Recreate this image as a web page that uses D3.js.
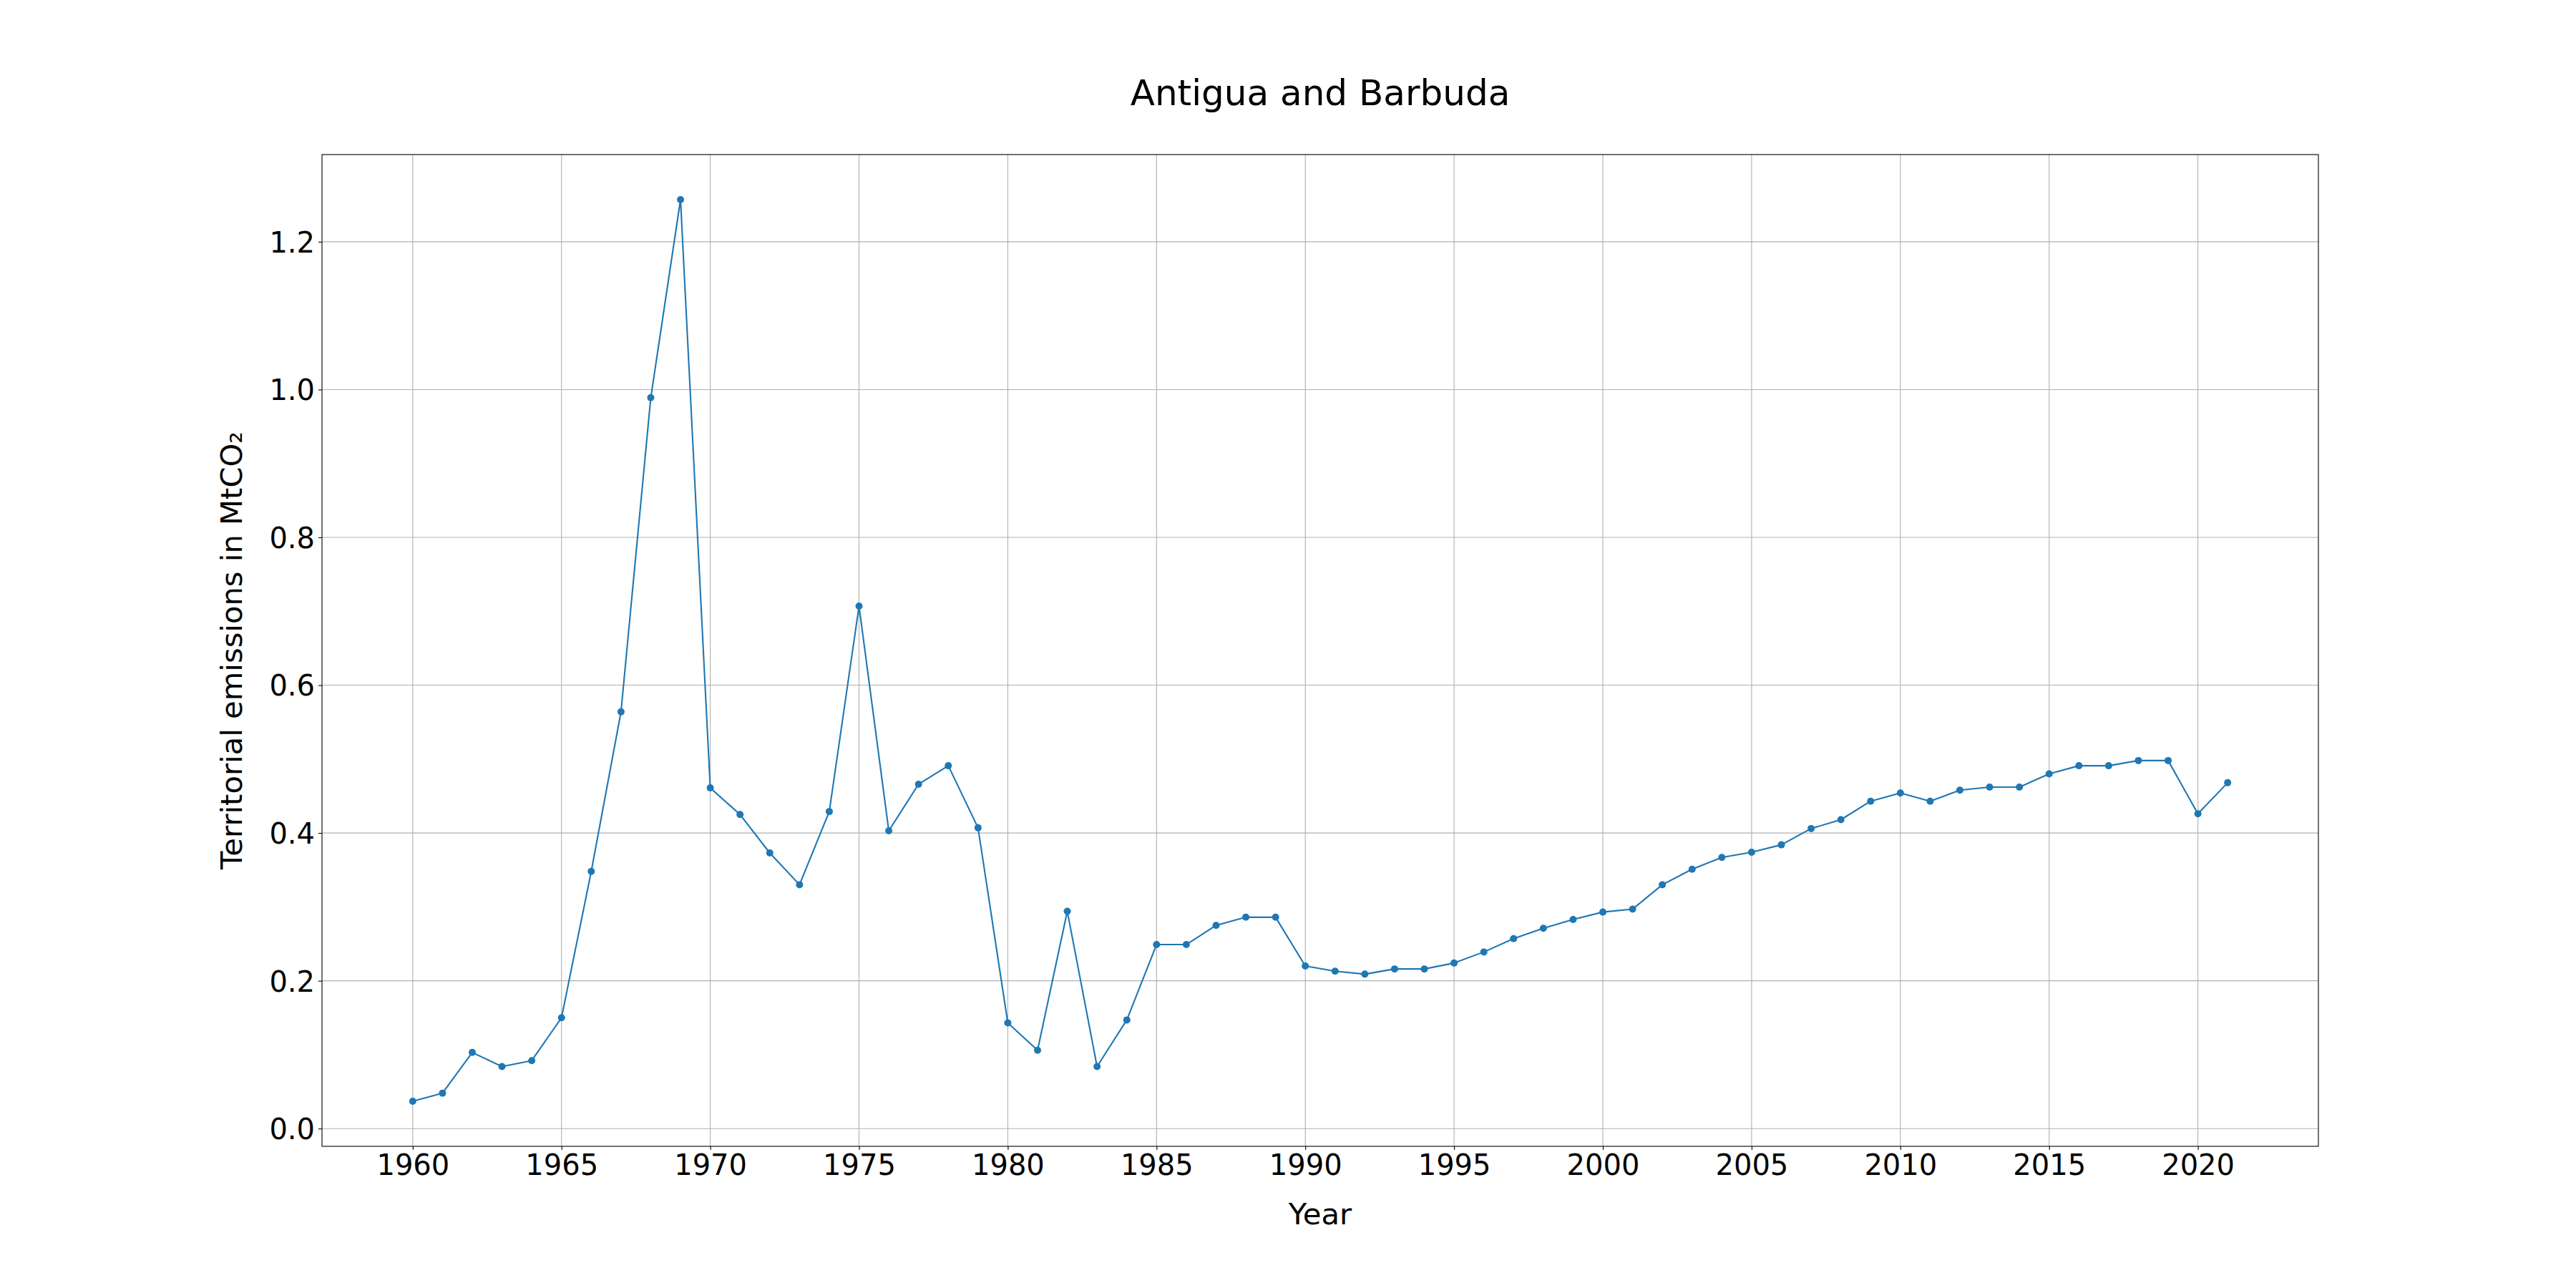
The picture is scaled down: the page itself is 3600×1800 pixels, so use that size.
<!DOCTYPE html>
<html>
<head>
<meta charset="utf-8">
<script src="https://cdn.jsdelivr.net/npm/d3@7"></script>
<style>
  html, body { margin: 0; padding: 0; background: #fff; }
  svg { display: block; }
  text { font-family: "DejaVu Sans", sans-serif; fill: #000; }
</style>
</head>
<body>
<svg id="chart" width="3600" height="1800"></svg>
<script>
const title = "Antigua and Barbuda";
const xLabel = "Year";
const yLabel = "Territorial emissions in MtCO₂";

const years = [
  1960, 1961, 1962, 1963, 1964, 1965, 1966, 1967, 1968, 1969,
  1970, 1971, 1972, 1973, 1974, 1975, 1976, 1977, 1978, 1979,
  1980, 1981, 1982, 1983, 1984, 1985, 1986, 1987, 1988, 1989,
  1990, 1991, 1992, 1993, 1994, 1995, 1996, 1997, 1998, 1999,
  2000, 2001, 2002, 2003, 2004, 2005, 2006, 2007, 2008, 2009,
  2010, 2011, 2012, 2013, 2014, 2015, 2016, 2017, 2018, 2019,
  2020, 2021
];
const emissions = [
  0.037, 0.048, 0.103, 0.084, 0.092, 0.150, 0.348, 0.564, 0.989, 1.257,
  0.461, 0.425, 0.373, 0.330, 0.429, 0.707, 0.403, 0.466, 0.491, 0.407,
  0.143, 0.106, 0.294, 0.084, 0.147, 0.249, 0.249, 0.275, 0.286, 0.286,
  0.220, 0.213, 0.209, 0.216, 0.216, 0.224, 0.239, 0.257, 0.271, 0.283,
  0.293, 0.297, 0.330, 0.351, 0.367, 0.374, 0.384, 0.406, 0.418, 0.443,
  0.454, 0.443, 0.458, 0.462, 0.462, 0.480, 0.491, 0.491, 0.498, 0.498,
  0.426, 0.468
];
const xTicks = [1960, 1965, 1970, 1975, 1980, 1985, 1990, 1995, 2000, 2005, 2010, 2015, 2020];
const yTicks = [0.0, 0.2, 0.4, 0.6, 0.8, 1.0, 1.2];

const data = years.map((y, i) => ({ year: y, value: emissions[i] }));

const W = 3600, H = 1800;
const margin = { left: 450, right: 360, top: 216, bottom: 198 };
const plotW = W - margin.left - margin.right;
const plotH = H - margin.top - margin.bottom;

const svg = d3.select("#chart");

function padded(ext) {
  const r = ext[1] - ext[0];
  return [ext[0] - 0.05 * r, ext[1] + 0.05 * r];
}

const x = d3.scaleLinear().domain(padded(d3.extent(years))).range([margin.left, margin.left + plotW]);
const y = d3.scaleLinear().domain(padded(d3.extent(emissions))).range([margin.top + plotH, margin.top]);

const tickFont = 40;
const labelFont = 41.7;
const color = "#1f77b4";

// Grid
const grid = svg.append("g");
grid.selectAll("line.vx").data(xTicks).join("line")
  .attr("x1", d => x(d)).attr("x2", d => x(d))
  .attr("y1", margin.top).attr("y2", margin.top + plotH)
  .attr("stroke", "#b0b0b0").attr("stroke-width", 1.1);
grid.selectAll("line.hy").data(yTicks).join("line")
  .attr("x1", margin.left).attr("x2", margin.left + plotW)
  .attr("y1", d => y(d)).attr("y2", d => y(d))
  .attr("stroke", "#b0b0b0").attr("stroke-width", 1.1);

// Axes
const xAxis = d3.axisBottom(x).tickValues(xTicks).tickFormat(d3.format("d")).tickSize(5).tickPadding(5);
const yAxis = d3.axisLeft(y).tickValues(yTicks).tickFormat(d3.format(".1f")).tickSize(5).tickPadding(5);

const gx = svg.append("g").attr("transform", `translate(0,${margin.top + plotH})`).call(xAxis);
const gy = svg.append("g").attr("transform", `translate(${margin.left},0)`).call(yAxis);
[gx, gy].forEach(g => {
  g.select(".domain").remove();
  g.selectAll(".tick line").attr("stroke", "#000").attr("stroke-width", 1.1);
  g.selectAll(".tick text").attr("font-size", tickFont).attr("font-family", "DejaVu Sans").attr("fill", "#000");
});
gx.selectAll(".tick text").attr("dy", "0.76em");
gy.selectAll(".tick text").attr("dy", "0.36em");

// Line and markers
const line = d3.line().x(d => x(d.year)).y(d => y(d.value));
svg.append("path").datum(data)
  .attr("d", line).attr("fill", "none")
  .attr("stroke", color).attr("stroke-width", 2.1)
  .attr("stroke-linejoin", "round").attr("stroke-linecap", "butt");
svg.append("g").selectAll("circle").data(data).join("circle")
  .attr("cx", d => x(d.year)).attr("cy", d => y(d.value))
  .attr("r", 5).attr("fill", color);

// Frame
svg.append("rect")
  .attr("x", margin.left).attr("y", margin.top)
  .attr("width", plotW).attr("height", plotH)
  .attr("fill", "none").attr("stroke", "#000").attr("stroke-width", 1.1);

// Title and labels
svg.append("text").attr("x", margin.left + plotW / 2).attr("y", 147)
  .attr("text-anchor", "middle").attr("font-size", 50).text(title);
svg.append("text").attr("x", margin.left + plotW / 2).attr("y", 1711)
  .attr("text-anchor", "middle").attr("font-size", labelFont).text(xLabel);
svg.append("text")
  .attr("transform", `translate(338,${margin.top + plotH / 2}) rotate(-90)`)
  .attr("text-anchor", "middle").attr("font-size", labelFont).text(yLabel);
</script>
</body>
</html>
